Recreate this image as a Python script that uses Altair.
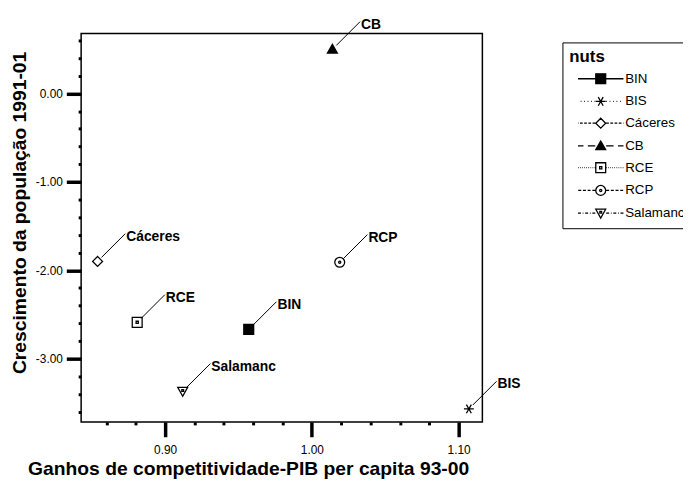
import altair as alt
import pandas as pd

# ---- data ----
nuts = ["BIN", "BIS", "Cáceres", "CB", "RCE", "RCP", "Salamanc"]
ganhos = [0.957, 1.107, 0.854, 1.014, 0.881, 1.019, 0.912]
crescimento = [-2.67, -3.57, -1.90, 0.50, -2.59, -1.91, -3.37]
point_labels = ["BIN", "BIS", "Cáceres", "CB", "RCE", "RCP", "Salamanc"]

x_tick_values = [0.86, 0.88, 0.90, 0.92, 0.94, 0.96, 0.98, 1.00,
                 1.02, 1.04, 1.06, 1.08, 1.10]
y_tick_values = [-3.6, -3.4, -3.2, -3.0, -2.8, -2.6, -2.4, -2.2, -2.0,
                 -1.8, -1.6, -1.4, -1.2, -1.0, -0.8, -0.6, -0.4, -0.2,
                 0.0, 0.2, 0.4, 0.6]

df = pd.DataFrame({"x": ganhos, "y": crescimento, "nuts": nuts, "label": point_labels})

# ---- styling helpers ----
FONT = "Liberation Sans"

SQUARE = "M-1,-1H1V1H-1Z"
ASTER = "M-1,0H1M-0.5,-0.87L0.5,0.87M-0.5,0.87L0.5,-0.87"
DIAMOND = "M0,-1L1,0L0,1L-1,0Z"
TRI_UP = "M0,-1L1,0.75L-1,0.75Z"
SQ_DOT = "M-1,-1H1V1H-1Z M-0.22,-0.22H0.22V0.22H-0.22Z"
CIRC_DOT = ("M-1,0A1,1,0,1,1,1,0A1,1,0,1,1,-1,0Z "
            "M-0.22,0A0.22,0.22,0,1,1,0.22,0A0.22,0.22,0,1,1,-0.22,0Z")
TRI_DOWN_DOT = "M-1,-0.8H1L0,1Z M-0.18,-0.35H0.18V0H-0.18Z"

marker_paths = [SQUARE, ASTER, DIAMOND, TRI_UP, SQ_DOT, CIRC_DOT, TRI_DOWN_DOT]
fills = ["black", "white", "white", "black", "white", "white", "white"]
strokes = ["black"] * 7


def dash_line(pattern, start=1.1, end=4.6):
    segs = []
    pos = start
    i = 0
    while pos < end:
        length, gap = pattern[i % len(pattern)]
        e = min(pos + length, end)
        segs.append((pos, e))
        pos = e + gap
        i += 1
    out = []
    for a, b in segs:
        out.append(f"M{a:.2f},0H{b:.2f}")
        out.append(f"M{-a:.2f},0H{-b:.2f}")
    return "".join(out)


line_styles = [
    [(4.0, 0.0)],                 # solid
    [(0.15, 0.55)],               # dotted
    [(0.55, 0.3)],                # dashed fine
    [(1.5, 0.9)],                 # long dash
    [(0.12, 0.3)],                # fine dotted
    [(0.6, 0.35)],                # dashed
    [(0.6, 0.35), (0.15, 0.35)],  # dash-dot
]
legend_paths = [m + " " + dash_line(s) for m, s in zip(marker_paths, line_styles)]

major_y = "abs(datum.value - round(datum.value)) < 0.001"
major_x = "abs(datum.value * 10 - round(datum.value * 10)) < 0.001"

x_axis = alt.Axis(
    values=x_tick_values,
    format=".2f",
    labelExpr=f"{major_x} ? datum.label : ''",
    tickSize={"condition": {"test": major_x, "value": 15}, "value": 3},
    tickWidth={"condition": {"test": major_x, "value": 3.5}, "value": 3},
    tickColor="black",
    labelPadding=8,
    labelFontSize=12,
    labelFont=FONT,
    labelColor="black",
    labelFlush=False,
    labelOverlap=False,
    domain=False,
    grid=False,
    title="Ganhos de competitividade-PIB per capita 93-00",
    titleFont=FONT,
    titleFontSize=19.5,
    titleFontWeight="bold",
    titleColor="black",
    titleX=169,
    titleY=47,
    titleAlign="center",
    titleBaseline="middle",
)

y_axis = alt.Axis(
    values=y_tick_values,
    format=".2f",
    labelExpr=f"{major_y} ? replace(datum.label, '\u2212', '-') : ''",
    tickSize={"condition": {"test": major_y, "value": 15}, "value": 3},
    tickWidth={"condition": {"test": major_y, "value": 3.5}, "value": 3},
    tickColor="black",
    labelPadding=4,
    labelFontSize=12,
    labelFont=FONT,
    labelColor="black",
    labelFlush=False,
    labelOverlap=False,
    domain=False,
    grid=False,
    title="Crescimento da população 1991-01",
    titleFont=FONT,
    titleFontSize=19.5,
    titleFontWeight="bold",
    titleColor="black",
    titleX=-62,
    titleY=181,
    titleAngle=270,
    titleAlign="center",
    titleBaseline="middle",
)

xscale = alt.Scale(domain=[0.8428, 1.1162], nice=False, zero=False)
yscale = alt.Scale(domain=[-3.717, 0.679], nice=False, zero=False)
X = alt.X("x:Q", scale=xscale, axis=x_axis)
Y = alt.Y("y:Q", scale=yscale, axis=y_axis)

base = alt.Chart(df)

points = base.mark_point(size=100, stroke="black", strokeWidth=1.3, opacity=1).encode(
    x=X, y=Y,
    shape=alt.Shape("nuts:N", scale=alt.Scale(domain=nuts, range=marker_paths), legend=None),
    fill=alt.Fill("nuts:N", scale=alt.Scale(domain=nuts, range=fills), legend=None),
)

leaders = base.mark_rule(color="black", strokeWidth=1, xOffset=4, yOffset=-4,
                         x2Offset=28, y2Offset=-28).encode(
    x=X, y=Y, x2=alt.X2("x"), y2=alt.Y2("y"))

texts = base.mark_text(align="left", baseline="middle", dx=29, dy=-25,
                       fontSize=14, fontWeight="bold", font=FONT, color="black").encode(
    x=X, y=Y, text="label:N")

legend_def = dict(title="nuts", orient="none", legendX=487, legendY=9)
legend_layer = base.transform_filter("false").mark_point(
    size=100, strokeWidth=1.3, opacity=1).encode(
    x=X, y=Y,
    shape=alt.Shape("nuts:N", scale=alt.Scale(domain=nuts, range=legend_paths),
                    legend=alt.Legend(**legend_def)),
    fill=alt.Fill("nuts:N", scale=alt.Scale(domain=nuts, range=fills),
                  legend=alt.Legend(**legend_def)),
    stroke=alt.Stroke("nuts:N", scale=alt.Scale(domain=nuts, range=strokes),
                      legend=alt.Legend(**legend_def)),
)

chart = alt.layer(points, leaders, texts, legend_layer).resolve_scale(
    shape="independent", fill="independent", stroke="independent"
).properties(
    width=406, height=393,
    autosize=alt.AutoSizeParams(type="none"),
    padding={"left": 74, "top": 23, "right": 203, "bottom": 62},
    background="white",
).configure_view(
    stroke="black", strokeWidth=1.5
).configure_legend(
    strokeColor="black",
    padding=7,
    titleFont=FONT, titleFontSize=17, titleFontWeight="bold", titleColor="black",
    titlePadding=6,
    labelFont=FONT, labelFontSize=13.5, labelColor="black",
    symbolSize=100, symbolStrokeColor="black", symbolStrokeWidth=1.3,
    symbolOffset=25, labelOffset=18, rowPadding=7,
)

chart.save("out.html", embed_options={"renderer": "svg", "actions": False})
